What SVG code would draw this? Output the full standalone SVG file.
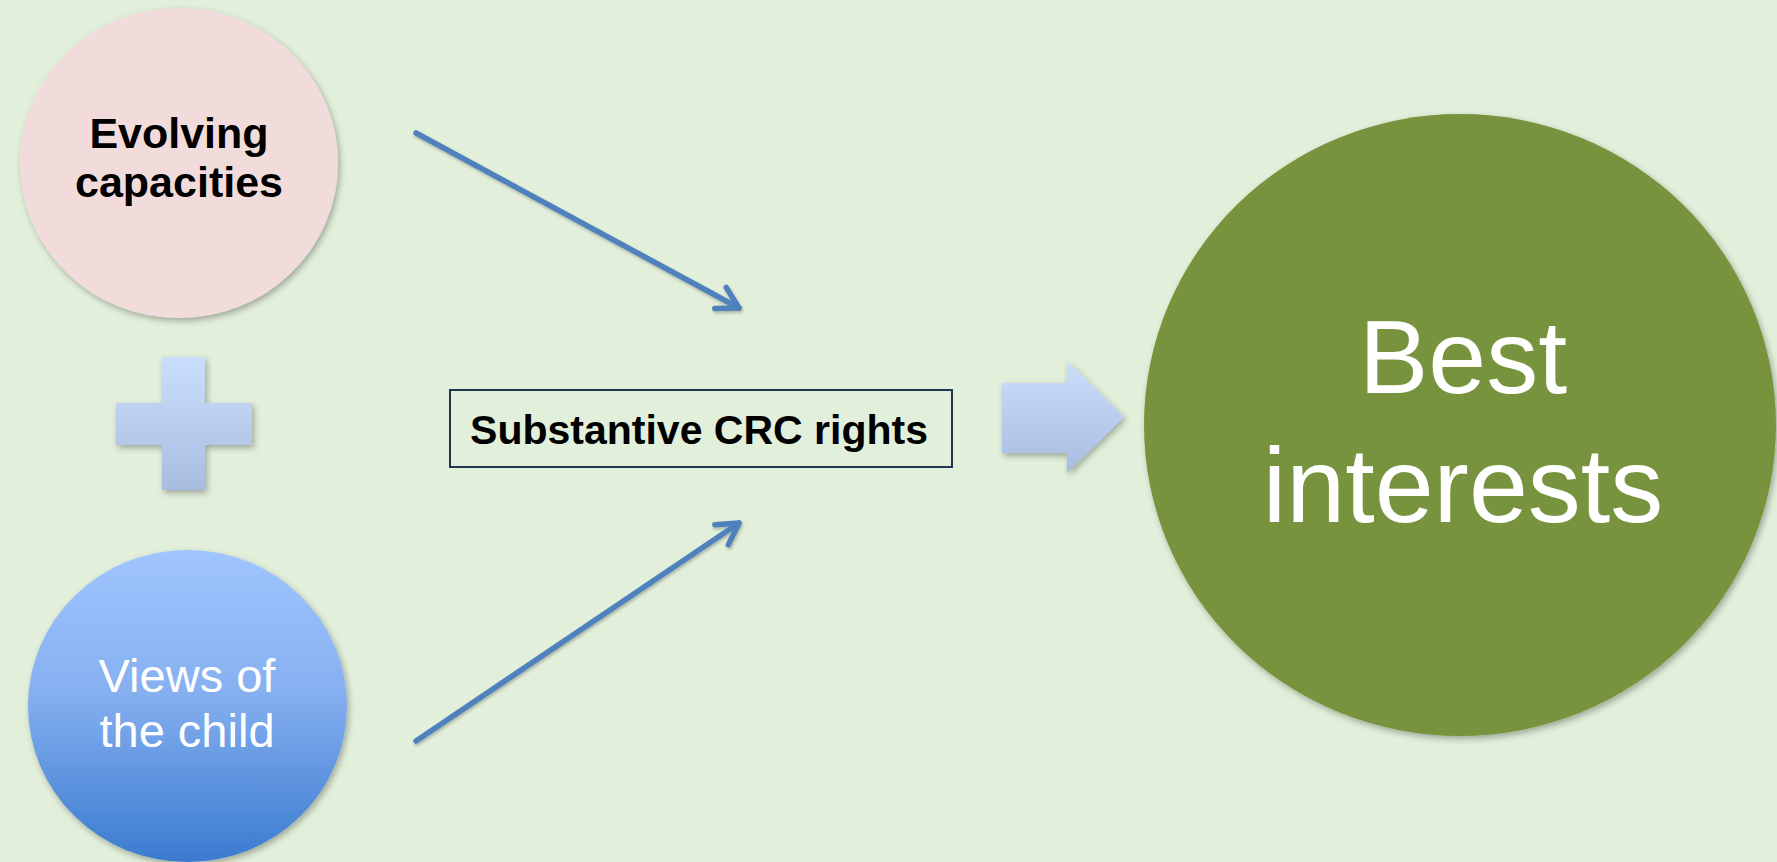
<svg xmlns="http://www.w3.org/2000/svg" width="1777" height="862" viewBox="0 0 1777 862">
<style>
.bold{font-family:"Liberation Sans",Arial,sans-serif;font-weight:bold;fill:#000;text-anchor:middle}
.reg{font-family:"Liberation Sans",Arial,sans-serif;fill:#fff;text-anchor:middle}
.conn{fill:none;stroke:#4f81bd;stroke-width:5.5;stroke-linecap:round}
</style>
<defs>
<filter id="sh" x="-10%" y="-10%" width="125%" height="125%">
<feDropShadow dx="2" dy="3" stdDeviation="3" flood-color="#000" flood-opacity="0.3"/>
</filter>
<filter id="lsh" x="-10%" y="-10%" width="125%" height="125%">
<feDropShadow dx="1" dy="2" stdDeviation="1.5" flood-color="#000" flood-opacity="0.25"/>
</filter>
<linearGradient id="blueG" x1="0" y1="0" x2="0" y2="1">
<stop offset="0" stop-color="#a0c5ff"/>
<stop offset="0.45" stop-color="#86b0f0"/>
<stop offset="1" stop-color="#3a7bcf"/>
</linearGradient>
<linearGradient id="lightG" x1="0" y1="0" x2="0" y2="1">
<stop offset="0" stop-color="#cadffd"/>
<stop offset="1" stop-color="#a8bce0"/>
</linearGradient>
<marker id="open" markerUnits="userSpaceOnUse" markerWidth="40" markerHeight="40" refX="0" refY="0" orient="auto" overflow="visible">
<path d="M-21,-12 L0,0 L-21,12" fill="none" stroke="#4f81bd" stroke-width="5.5" stroke-linecap="round" stroke-linejoin="round"/>
</marker>
</defs>
<rect x="0" y="0" width="1777" height="862" fill="#e2efda"/>

<g id="node-evolving">
<ellipse cx="179" cy="163" rx="159" ry="155" fill="#f2dcdb" filter="url(#sh)"/>
<text class="bold" x="179" y="148" font-size="43">Evolving</text>
<text class="bold" x="179" y="197" font-size="43">capacities</text>
</g>

<g id="node-plus">
<path d="M162,357 H205 V403 H252 V445 H205 V490 H162 V445 H116 V403 H162 Z" fill="url(#lightG)" filter="url(#sh)"/>
</g>

<g id="node-views">
<ellipse cx="187.5" cy="706" rx="159.5" ry="156" fill="url(#blueG)" filter="url(#sh)"/>
<text class="reg" x="187" y="692" font-size="47">Views of</text>
<text class="reg" x="187" y="747" font-size="47">the child</text>
</g>

<g id="node-rights">
<rect x="450" y="390" width="502" height="77" fill="none" stroke="#1f3552" stroke-width="2"/>
<text class="bold" x="699" y="444" font-size="41">Substantive CRC rights</text>
</g>

<g id="node-blockarrow">
<path d="M1002,383 H1067 V361 L1124,417 L1067,473 V453 H1002 Z" fill="url(#lightG)" filter="url(#sh)"/>
</g>

<g id="node-best">
<ellipse cx="1460" cy="425" rx="316" ry="311" fill="#77933c" filter="url(#sh)"/>
<text class="reg" x="1463" y="393" font-size="104">Best</text>
<text class="reg" x="1463" y="522" font-size="106">interests</text>
</g>

<g id="connectors" filter="url(#lsh)">
<line class="conn" x1="416" y1="133" x2="739" y2="308" marker-end="url(#open)"/>
<line class="conn" x1="416" y1="741" x2="739" y2="523" marker-end="url(#open)"/>
</g>
</svg>
